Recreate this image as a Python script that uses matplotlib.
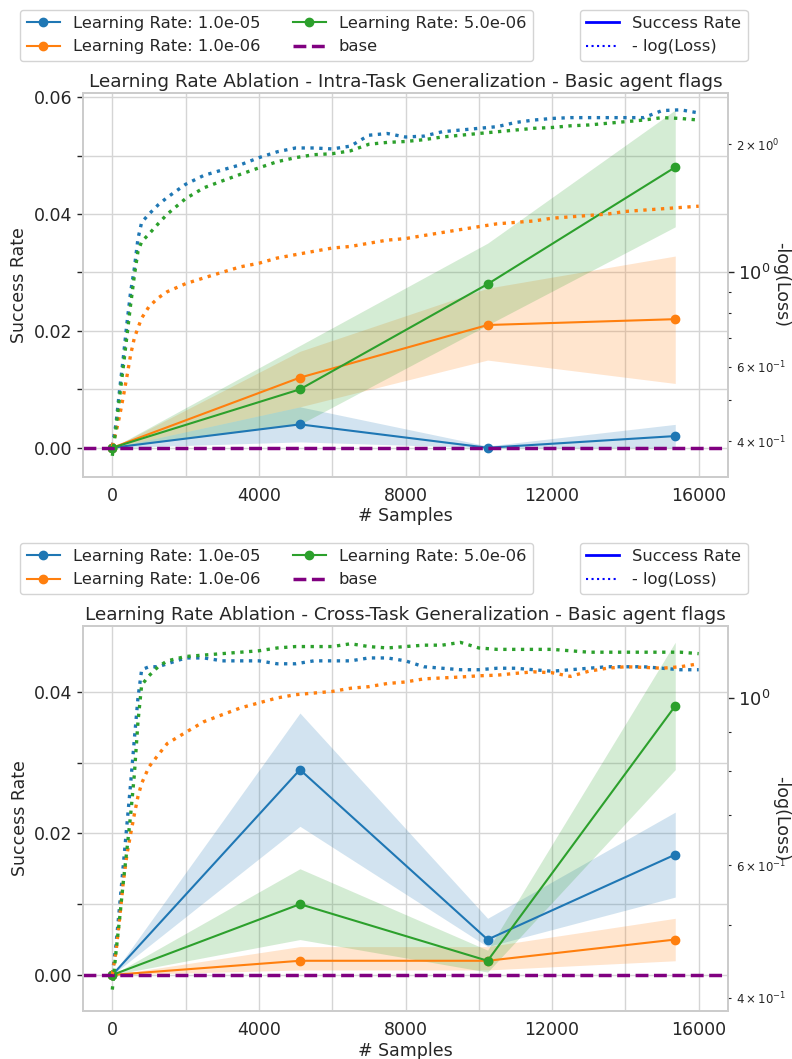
import numpy as np
import matplotlib
matplotlib.use("Agg")
import matplotlib.pyplot as plt
from matplotlib.lines import Line2D

# ---------------- data ----------------
sample_steps = [0, 5120, 10240, 15360]
loss_steps = [0, 100, 200, 300, 400, 500, 600, 700, 800, 1000, 1250, 1500, 2000,
              2500, 3000, 3500, 4000, 4500, 5000, 5500, 6000, 6500, 7000, 7500,
              8000, 8500, 9000, 9500, 10000, 10500, 11000, 11500, 12000, 12500,
              13000, 13500, 14000, 14500, 15000, 15500, 16000]

lr_labels = ["Learning Rate: 1.0e-05", "Learning Rate: 1.0e-06", "Learning Rate: 5.0e-06"]
lr_colors = ["#1f77b4", "#ff7f0e", "#2ca02c"]

# intra-task (top)
intra_sr_1e5 = [0.0, 0.004, 0.0, 0.002]
intra_lo_1e5 = [0.0, 0.001, 0.0, 0.0]
intra_hi_1e5 = [0.0, 0.007, 0.0003, 0.004]
intra_sr_1e6 = [0.0, 0.012, 0.021, 0.022]
intra_lo_1e6 = [0.0, 0.007, 0.015, 0.011]
intra_hi_1e6 = [0.0, 0.0165, 0.0273, 0.0328]
intra_sr_5e6 = [0.0, 0.010, 0.028, 0.048]
intra_lo_5e6 = [0.0, 0.004, 0.021, 0.0378]
intra_hi_5e6 = [0.0, 0.0175, 0.035, 0.0578]

intra_loss_1e5 = [0.39, 0.44, 0.53, 0.63, 0.76, 0.90, 1.02, 1.20, 1.31, 1.37, 1.44, 1.50, 1.61,
                  1.69, 1.74, 1.79, 1.86, 1.92, 1.96, 1.96, 1.95, 1.98, 2.10, 2.12,
                  2.08, 2.09, 2.14, 2.16, 2.18, 2.20, 2.25, 2.28, 2.30, 2.31,
                  2.31, 2.31, 2.31, 2.31, 2.40, 2.41, 2.37]
intra_loss_1e6 = [0.39, 0.42, 0.46, 0.51, 0.57, 0.64, 0.70, 0.74, 0.78, 0.83, 0.87, 0.90, 0.94,
                  0.97, 1.00, 1.03, 1.05, 1.08, 1.10, 1.12, 1.14, 1.15, 1.17, 1.19,
                  1.20, 1.22, 1.24, 1.26, 1.28, 1.30, 1.31, 1.32, 1.34, 1.35,
                  1.36, 1.37, 1.39, 1.40, 1.41, 1.42, 1.43]
intra_loss_5e6 = [0.37, 0.43, 0.51, 0.60, 0.71, 0.84, 0.98, 1.12, 1.18, 1.23, 1.30, 1.37, 1.49,
                  1.58, 1.64, 1.70, 1.76, 1.82, 1.86, 1.89, 1.90, 1.93, 2.00, 2.02,
                  2.03, 2.05, 2.08, 2.10, 2.12, 2.14, 2.16, 2.18, 2.19, 2.21,
                  2.22, 2.24, 2.26, 2.28, 2.31, 2.30, 2.28]

# cross-task (bottom)
cross_sr_1e5 = [0.0, 0.029, 0.005, 0.017]
cross_lo_1e5 = [0.0, 0.021, 0.004, 0.011]
cross_hi_1e5 = [0.0, 0.037, 0.008, 0.023]
cross_sr_1e6 = [0.0, 0.002, 0.002, 0.005]
cross_lo_1e6 = [0.0, 0.0007, 0.0007, 0.002]
cross_hi_1e6 = [0.0, 0.004, 0.004, 0.008]
cross_sr_5e6 = [0.0, 0.010, 0.002, 0.038]
cross_lo_5e6 = [0.0, 0.005, 0.0004, 0.029]
cross_hi_5e6 = [0.0, 0.015, 0.0035, 0.047]

cross_loss_1e5 = [0.43, 0.47, 0.53, 0.60, 0.68, 0.77, 0.88, 1.00, 1.09, 1.10, 1.10, 1.11, 1.13,
                  1.13, 1.12, 1.12, 1.12, 1.11, 1.11, 1.12, 1.12, 1.12, 1.13, 1.13,
                  1.12, 1.10, 1.095, 1.09, 1.09, 1.095, 1.095, 1.09, 1.085, 1.09,
                  1.095, 1.10, 1.10, 1.10, 1.095, 1.09, 1.09]
cross_loss_1e6 = [0.43, 0.46, 0.51, 0.57, 0.62, 0.66, 0.70, 0.74, 0.77, 0.81, 0.84, 0.87, 0.90,
                  0.93, 0.95, 0.97, 0.985, 1.00, 1.01, 1.015, 1.02, 1.03, 1.035, 1.045,
                  1.05, 1.06, 1.063, 1.066, 1.07, 1.072, 1.078, 1.083, 1.08, 1.068,
                  1.085, 1.095, 1.10, 1.098, 1.095, 1.10, 1.11]
cross_loss_5e6 = [0.41, 0.46, 0.51, 0.57, 0.63, 0.70, 0.79, 0.93, 1.04, 1.07, 1.10, 1.12, 1.135,
                  1.14, 1.145, 1.15, 1.155, 1.165, 1.17, 1.17, 1.17, 1.18, 1.17, 1.165,
                  1.17, 1.175, 1.175, 1.185, 1.165, 1.16, 1.16, 1.16, 1.16, 1.155,
                  1.15, 1.15, 1.15, 1.15, 1.15, 1.15, 1.145]

plt.rcParams['font.family'] = ['DejaVu Sans']
plt.rcParams['text.color'] = '#262626'
plt.rcParams['axes.labelcolor'] = '#262626'
plt.rcParams['xtick.color'] = '#262626'
plt.rcParams['ytick.color'] = '#262626'
plt.rcParams['axes.edgecolor'] = '#cccccc'
plt.rcParams['axes.linewidth'] = 1.25
plt.rcParams['grid.color'] = '#d5d5d5'
plt.rcParams['grid.linewidth'] = 1.0


def draw_panel(rect, title, sr, lo, hi, loss, ylim, ylim2):
    ax = fig.add_axes(rect)
    ax.set_axisbelow(True)
    ax.grid(True)
    for k in range(3):
        ax.fill_between(sample_steps, lo[k], hi[k], color=lr_colors[k], alpha=0.2, lw=0)
        ax.plot(sample_steps, sr[k], color=lr_colors[k], marker='o', ms=6, lw=1.5,
                label=lr_labels[k])
    ax.axhline(0, color='purple', ls='--', lw=2.5, label='base')
    ax.set_xlim(-800, 16800)
    ax.set_ylim(*ylim)
    xt = list(range(0, 16001, 2000))
    ax.set_xticks(xt)
    ax.set_xticklabels([str(v) if v % 4000 == 0 else '' for v in xt])
    yt = np.arange(0, ylim[1], 0.01)
    ax.set_yticks(yt)
    ax.set_yticklabels(['%.2f' % v if i % 2 == 0 else '' for i, v in enumerate(yt)])
    ax.tick_params(axis='x', length=0, labelsize=12.5, pad=7)
    ax.tick_params(axis='y', length=4, width=1, labelsize=12.5, color='#262626')
    ax.set_xlabel('# Samples', fontsize=12.5, labelpad=2)
    ax.set_ylabel('Success Rate', fontsize=12.5)
    ax.set_title(title, fontsize=13.3, pad=4)

    ax2 = ax.twinx()
    for k in range(3):
        ax2.plot(loss_steps, loss[k], color=lr_colors[k], ls=':', lw=2.4)
    ax2.set_yscale('log')
    ax2.set_ylim(*ylim2)
    ax2.grid(False)
    ax2.tick_params(axis='y', which='major', length=4, width=1, labelsize=13, color='#262626')
    ax2.tick_params(axis='y', which='minor', length=2.5, width=0.8, labelsize=8.5, color='#262626')
    ax2.set_ylabel('-log(Loss)', fontsize=12.5, rotation=270, va='center')
    ax2.yaxis.set_label_coords(1.082, 0.5)
    for sp in ax2.spines.values():
        sp.set_color('#cccccc')

    h, l = ax.get_legend_handles_labels()
    ax.legend(h, l, loc='lower center', bbox_to_anchor=(0.3, 1.062), ncol=2,
              fontsize=11.8, framealpha=0.9, edgecolor='#d0d0d0')
    style_handles = [Line2D([], [], color='blue', ls='-', lw=2),
                     Line2D([], [], color='blue', ls=':', lw=1.5)]
    ax2.legend(style_handles, ['Success Rate', '- log(Loss)'], loc='lower center',
               bbox_to_anchor=(0.9, 1.062), fontsize=11.8, framealpha=0.9,
               edgecolor='#d0d0d0')
    return ax, ax2


fig = plt.figure(figsize=(7.92, 10.59), dpi=100)

draw_panel([0.1048, 0.5496, 0.8144, 0.3626],
           'Learning Rate Ablation - Intra-Task Generalization - Basic agent flags',
           [intra_sr_1e5, intra_sr_1e6, intra_sr_5e6],
           [intra_lo_1e5, intra_lo_1e6, intra_lo_5e6],
           [intra_hi_1e5, intra_hi_1e6, intra_hi_5e6],
           [intra_loss_1e5, intra_loss_1e6, intra_loss_5e6],
           (-0.0050, 0.0607), (0.330, 2.64))

draw_panel([0.1048, 0.0453, 0.8144, 0.3636],
           'Learning Rate Ablation - Cross-Task Generalization - Basic agent flags',
           [cross_sr_1e5, cross_sr_1e6, cross_sr_5e6],
           [cross_lo_1e5, cross_lo_1e6, cross_lo_5e6],
           [cross_hi_1e5, cross_hi_1e6, cross_hi_5e6],
           [cross_loss_1e5, cross_loss_1e6, cross_loss_5e6],
           (-0.0051, 0.0493), (0.384, 1.246))

fig.savefig('out.png', dpi=100)
